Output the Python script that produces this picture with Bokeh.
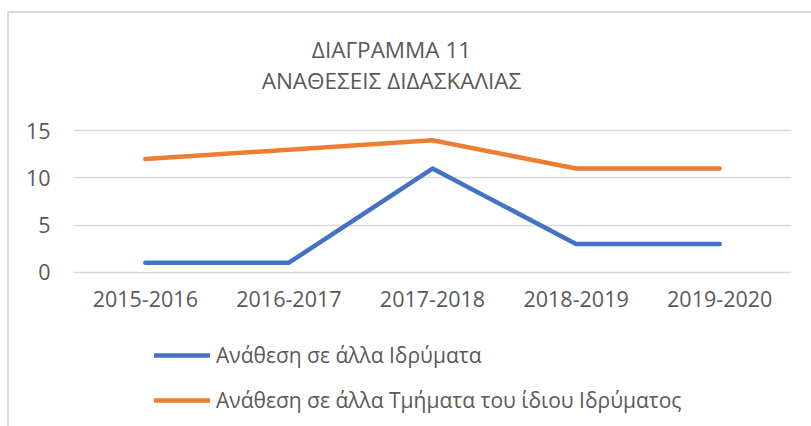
from bokeh.plotting import figure
from bokeh.layouts import column
from bokeh.models import (ColumnDataSource, Range1d, FixedTicker, Legend, LegendItem, Label)
from bokeh.embed import file_html
from bokeh.resources import INLINE

categories = ["2015-2016", "2016-2017", "2017-2018", "2018-2019", "2019-2020"]
other_institutions = [1, 1, 11, 3, 3]
other_departments = [12, 13, 14, 11, 11]
y_ticks = [0, 5, 10, 15]
title_lines = ["ΔΙΑΓΡΑΜΜΑ 11", "ΑΝΑΘΕΣΕΙΣ ΔΙΔΑΣΚΑΛΙΑΣ"]
series_names = ["Ανάθεση σε άλλα Ιδρύματα", "Ανάθεση σε άλλα Τμήματα του ίδιου Ιδρύματος"]

FONT = "Open Sans"
TXT = "#595959"
BLUE = "#4472C4"
ORANGE = "#ED7D31"
GRID = "#D9D9D9"

W = 802
HA, HB, HC = 97, 215, 101

source = ColumnDataSource(dict(cat=categories, a=other_institutions, b=other_departments))

# ---- chart ----
pb = figure(width=W, height=HB, x_range=categories, y_range=Range1d(-0.25, 15.25),
            output_backend="svg", toolbar_location=None,
            min_border_left=64, min_border_right=20, min_border_top=18, min_border_bottom=51)
pb.outline_line_color = None
pb.background_fill_color = "white"
pb.border_fill_color = "white"
pb.xgrid.grid_line_color = None
pb.ygrid.grid_line_color = GRID
pb.ygrid.grid_line_width = 1.3
pb.yaxis.ticker = FixedTicker(ticks=y_ticks)
for ax in (pb.xaxis[0], pb.yaxis[0]):
    ax.axis_line_color = None
    ax.major_tick_line_color = None
    ax.minor_tick_line_color = None
    ax.major_label_text_font = FONT
    ax.major_label_text_color = TXT
    ax.major_label_text_font_size = "21.5px"
pb.yaxis.major_label_standoff = 17
pb.xaxis.major_label_standoff = 10

pb.line("cat", "a", source=source, color=BLUE, line_width=4.5,
        line_cap="round", line_join="round")
pb.line("cat", "b", source=source, color=ORANGE, line_width=4.5,
        line_cap="round", line_join="round")


def blank(height, x_range, y_range):
    f = figure(width=W, height=height, x_range=x_range, y_range=y_range,
               output_backend="svg", toolbar_location=None,
               x_axis_location=None, y_axis_location=None,
               min_border=0, min_border_left=64, min_border_right=20,
               min_border_top=0, min_border_bottom=0)
    f.outline_line_color = None
    f.grid.visible = False
    f.background_fill_color = "white"
    f.border_fill_color = "white"
    return f


# ---- title (frame aligned with the chart frame) ----
pa = blank(HA, Range1d(0, 1), Range1d(0, 1))
for txt, yy in zip(title_lines, [61, 30]):
    pa.add_layout(Label(x=318, y=yy, x_units="screen", y_units="screen", text=txt,
                        text_align="center", text_baseline="middle",
                        text_font=FONT, text_font_size="22.5px", text_color=TXT))

# ---- legend (series re-drawn out of view so the legend keys render) ----
pc = blank(HC, pb.x_range, Range1d(100, 101))
k1 = pc.line("cat", "a", source=source, color=BLUE, line_width=4.5, line_cap="round")
k2 = pc.line("cat", "b", source=source, color=ORANGE, line_width=4.5, line_cap="round")
legend = Legend(items=[LegendItem(label=series_names[0], renderers=[k1]),
                       LegendItem(label=series_names[1], renderers=[k2])],
                location=(81, 11), orientation="vertical",
                glyph_width=56, glyph_height=30, label_height=30, spacing=15,
                label_standoff=6, padding=0, margin=0,
                border_line_color=None, background_fill_alpha=0,
                label_text_font=FONT, label_text_font_size="21px",
                label_text_color=TXT)
pc.add_layout(legend, "center")

layout = column(pa, pb, pc, spacing=0)
layout.styles = {"margin-left": "7px", "margin-top": "11px",
                 "border-left": "2px solid #D9D9D9", "border-top": "2px solid #D9D9D9"}

open("out.html", "w").write(file_html(layout, INLINE))
